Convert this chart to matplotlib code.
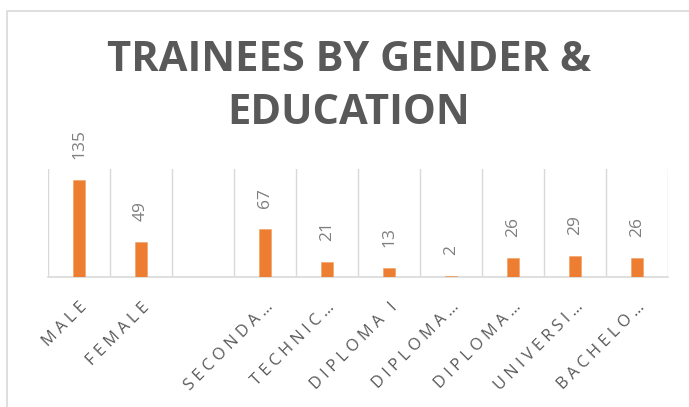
import matplotlib.pyplot as plt
from matplotlib.patches import Rectangle
import numpy as np

# data
categories = ["MALE", "FEMALE", "", "SECONDA…", "TECHNIC…", "DIPLOMA I",
              "DIPLOMA…", "DIPLOMA…", "UNIVERSI…", "BACHELO…"]
values = [135, 49, None, 67, 21, 13, 2, 26, 29, 26]

plt.rcParams['font.family'] = ['Open Sans', 'DejaVu Sans']


def spaced(label, gap=" "):
    # imitate the wide character spacing of the original chart
    return "   ".join(gap.join(word) for word in label.split(" "))


W, H = 689, 407
fig = plt.figure(figsize=(W / 100, H / 100), dpi=100)

# chart border (cropped on right and bottom)
fig.patches.append(Rectangle((7 / W, -0.1), 1.2, 1.1 - 11 / H,
                             transform=fig.transFigure, fill=False,
                             edgecolor='#d9d9d9', linewidth=1.2))

left, right, top, base = 48, 668, 169, 277
ax = fig.add_axes([left / W, 1 - base / H, (right - left) / W, (base - top) / H])

x = np.arange(len(categories))
vals = [v if v is not None else 0 for v in values]
ax.bar(x, vals, width=0.2, color='#ed7d31', edgecolor='#f0a060', linewidth=0.4, zorder=3)

for xi, v in zip(x, values):
    if v is None:
        continue
    ax.annotate(str(v), (xi, v), xytext=(0, 15), textcoords='offset points',
                rotation=90, ha='center', va='bottom', fontsize=12.5, color='#7f7f7f')

ax.set_xlim(-0.5, len(categories) - 0.5)
ax.set_ylim(0, 150)

# vertical category separators
for b in np.arange(-0.5, len(categories), 1.0):
    ax.axvline(b, color='#d9d9d9', linewidth=1, zorder=1)

for s in ['top', 'left', 'right']:
    ax.spines[s].set_visible(False)
ax.spines['bottom'].set_color('#d9d9d9')
ax.spines['bottom'].set_linewidth(1.2)
ax.set_yticks([])
ax.set_xticks(x)
ax.set_xticklabels([spaced(c) for c in categories], rotation=45, ha='right',
                   rotation_mode='anchor', fontsize=11.8, color='#595959')
ax.tick_params(axis='x', length=0, pad=16)

fig.text(349 / W, 1 - 87 / H, "TRAINEES BY GENDER &\nEDUCATION", ha='center', va='center',
         fontsize=30, fontweight='bold', color='#595959', linespacing=1.38)

fig.savefig('out.png', dpi=100)
